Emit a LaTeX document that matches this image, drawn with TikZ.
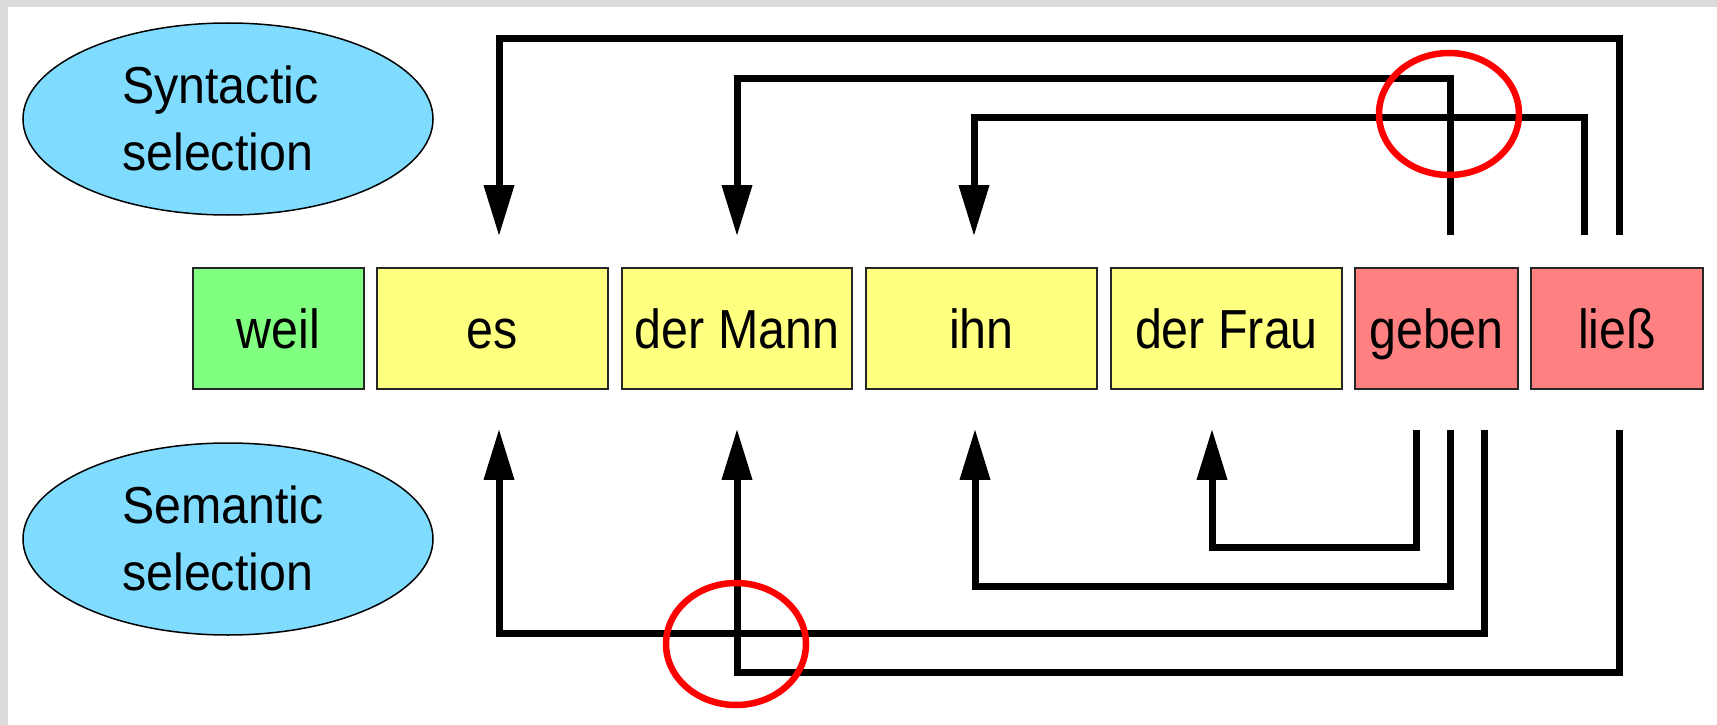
\documentclass[tikz,border=0pt]{standalone}
\usepackage{fontspec}
\setmainfont{Liberation Sans}
\newfontfamily\boxfont{Liberation Sans}[FakeStretch=0.88]
\newfontfamily\ovalfont{Liberation Sans}[FakeStretch=0.93]
\usetikzlibrary{arrows.meta,shapes.geometric}

\definecolor{wordgreen}{RGB}{128,255,128}
\definecolor{wordyellow}{RGB}{255,255,128}
\definecolor{wordred}{RGB}{255,128,128}
\definecolor{ovalblue}{RGB}{128,220,255}
\definecolor{framegray}{RGB}{220,220,220}

\begin{document}
\begin{tikzpicture}[x=1pt,y=-1pt,
  word/.style={rectangle, draw=black!85, line width=1.6pt, minimum height=121pt,
    inner sep=0pt, text height=45pt, text depth=6pt,
    font={\boxfont\fontsize{55}{66}\selectfont}},
  oval/.style={ellipse, draw=black, line width=1.5pt, fill=ovalblue,
    minimum width=410pt, minimum height=192pt, inner sep=0pt},
  ovaltext/.style={anchor=west, inner sep=0pt, align=left,
    font={\ovalfont\fontsize{52}{67}\selectfont}},
  link/.style={line width=7pt, line join=miter, line cap=butt},
  pointer/.style={link, -{Triangle[length=50pt,width=31pt,line width=0pt]}},
  ring/.style={ellipse, draw=red, line width=6.5pt, minimum width=140pt,
    minimum height=122pt, inner sep=0pt}
]
\useasboundingbox (0,0) rectangle (1717,725);
\fill[white] (0,0) rectangle (1717,725);
\fill[framegray] (0,0) rectangle (1717,7.5);
\fill[framegray] (0,0) rectangle (7.5,725);

% legend ovals
\node[oval] (synOval) at (228,119) {};
\node[ovaltext] (synText) at (122,118) {Syntactic\\selection};
\node[oval] (semOval) at (228,539) {};
\node[ovaltext] (semText) at (122,538) {Semantic\\selection};

% the words of the clause
\node[word, fill=wordgreen,  minimum width=171pt] (weil)  at (278.5,328.5) {weil};
\node[word, fill=wordyellow, minimum width=231pt] (es)    at (492.5,328.5) {es};
\node[word, fill=wordyellow, minimum width=230pt] (mann)  at (737,328.5)   {der Mann};
\node[word, fill=wordyellow, minimum width=231pt] (ihn)   at (981.5,328.5) {ihn};
\node[word, fill=wordyellow, minimum width=231pt] (frau)  at (1226.5,328.5){der Frau};
\node[word, fill=wordred,    minimum width=163pt] (geben) at (1436.5,328.5){geben};
\node[word, fill=wordred,    minimum width=172pt] (lies)  at (1617,328.5)  {ließ};

% ports above the words
\path (es.north)    ++(6.5,-32)  coordinate (esSyn);
\path (mann.north)  ++(0,-32)    coordinate (mannSyn);
\path (ihn.north)   ++(-7.5,-32) coordinate (ihnSyn);
\path (geben.north) ++(13.5,-32) coordinate (gebenSyn);
\path (lies.north)  ++(2,-32)    coordinate (liesSynA);
\path (lies.north)  ++(-33,-32)  coordinate (liesSynB);

% ports below the words
\path (es.south)    ++(6.5,40)   coordinate (esSem);
\path (mann.south)  ++(0,40)     coordinate (mannSem);
\path (ihn.south)   ++(-6.5,40)  coordinate (ihnSem);
\path (frau.south)  ++(-14.5,40) coordinate (frauSem);
\path (geben.south) ++(-20.5,40) coordinate (gebenSemA);
\path (geben.south) ++(13.5,40)  coordinate (gebenSemB);
\path (geben.south) ++(47.5,40)  coordinate (gebenSemC);
\path (lies.south)  ++(2,40)     coordinate (liesSem);

% syntactic selection
\draw[pointer] (liesSynA) -- ++(0,-197) -| (esSyn);
\draw[pointer] (gebenSyn) -- ++(0,-157) -| (mannSyn);
\draw[pointer] (liesSynB) -- ++(0,-118) -| (ihnSyn);

% semantic selection
\draw[pointer] (gebenSemA) -- ++(0,118) -| (frauSem);
\draw[pointer] (gebenSemB) -- ++(0,157) -| (ihnSem);
\draw[pointer] (gebenSemC) -- ++(0,204) -| (esSem);
\draw[pointer] (liesSem)   -- ++(0,243) -| (mannSem);

% crossings
\node[ring] (synCross) at (1449,114) {};
\node[ring] (semCross) at (736,644) {};
\end{tikzpicture}
\end{document}
